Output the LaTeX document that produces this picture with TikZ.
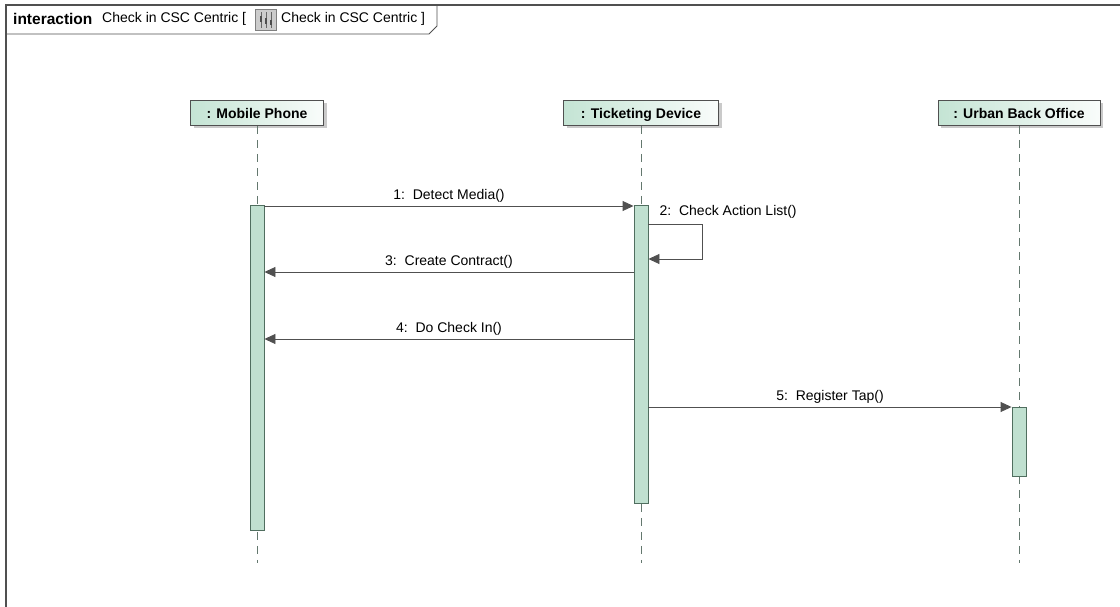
\documentclass[tikz,border=0pt]{standalone}
\usepackage{fontspec}
\setmainfont{Liberation Sans}
\usetikzlibrary{arrows.meta,shadows}
\definecolor{actfill}{RGB}{192,224,208}
\definecolor{actdraw}{RGB}{80,110,95}
\definecolor{headgreen}{RGB}{196,228,212}
\definecolor{linegray}{RGB}{80,80,80}
\definecolor{lifegray}{RGB}{100,120,110}
\tikzset{
  head/.style={draw=linegray, line width=0.8pt, left color=headgreen, right color=white!90!headgreen,
    minimum height=25pt, inner sep=0pt, text height=12pt, text depth=1pt,
    font=\fontsize{14}{16}\selectfont\bfseries,
    drop shadow={shadow xshift=3pt, shadow yshift=-3pt, fill=black!35, opacity=0.6}},
  act/.style={draw=actdraw, fill=actfill, line width=0.9pt, minimum width=14pt, inner sep=0pt, anchor=north},
  lifeline/.style={draw=lifegray, line width=0.9pt, dash pattern=on 8pt off 6pt},
  msg/.style={draw=linegray, line width=0.9pt, -{Triangle[length=11pt,width=10pt]}},
  lbl/.style={font=\fontsize{14}{16}\selectfont, inner sep=1pt},
  hdr/.style={font=\fontsize{14}{16}\selectfont, inner sep=0pt, anchor=west}
}
\begin{document}
\begin{tikzpicture}[x=1pt,y=-1pt]
\useasboundingbox (0,0) rectangle (1120,607);
% frame
\draw[linegray, line width=1.2pt] (6,607) -- (6,5) -- (1120,5);
\draw[linegray, line width=0.9pt] (6,34) -- (429,34) -- (437,26) -- (437,5);
\node[hdr, font=\fontsize{15.5}{17}\selectfont\bfseries] (kw) at (13,19) {interaction};
\node[hdr] (t1) at (102,19) {Check in CSC Centric [};
\node[draw=gray, fill=black!20, minimum width=21pt, minimum height=21pt, inner sep=0pt] (icon) at (266,20) {};
\draw[black!60, line width=0.8pt] ([xshift=-5pt,yshift=-3pt]icon.north) -- ([xshift=-5pt,yshift=3pt]icon.south)
  ([yshift=-3pt]icon.north) -- ([yshift=3pt]icon.south)
  ([xshift=5pt,yshift=-3pt]icon.north) -- ([xshift=5pt,yshift=3pt]icon.south);
\draw[black!70, line width=2.2pt] ([xshift=-5pt,yshift=-7pt]icon.north) -- ([xshift=-5pt,yshift=-13pt]icon.north)
  ([yshift=-9pt]icon.north) -- ([yshift=-15pt]icon.north)
  ([xshift=5pt,yshift=-11pt]icon.north) -- ([xshift=5pt,yshift=-16pt]icon.north);
\node[hdr] (t2) at (281,19) {Check in CSC Centric ]};
% heads
\node[head, minimum width=133pt] (mp) at (257,113) {: Mobile Phone};
\node[head, minimum width=155pt] (td) at (641,113) {: Ticketing Device};
\node[head, minimum width=162pt] (ub) at (1019,113) {: Urban Back Office};
% lifeline ends
\coordinate (mpe) at (257,563);
\coordinate (tde) at (641,563);
\coordinate (ube) at (1019,563);
\draw[lifeline] (mp.south) -- (mpe);
\draw[lifeline] (td.south) -- (tde);
\draw[lifeline] (ub.south) -- (ube);
% activations
\node[act, minimum height=325pt] (mpa) at (257,205) {};
\node[act, minimum height=298pt] (tda) at (641,205) {};
\node[act, minimum height=69pt] (uba) at (1019,407) {};
% messages
\draw[msg] ([yshift=-1pt]mpa.north east) -- node[lbl, above=2pt] {1:\ \ Detect Media()} ([yshift=-1pt]tda.north west);
\draw[msg] ([yshift=-19pt]tda.north east) -- ++(54,0) -- ++(0,35) -- ([yshift=-54pt]tda.north east);
\node[lbl, anchor=west] (l2) at ([xshift=10pt,yshift=-7pt]tda.north east) {2:\ \ Check Action List()};
\draw[msg] ([yshift=-67pt]tda.north west) -- node[lbl, above=2pt] {3:\ \ Create Contract()} ([yshift=-67pt]mpa.north east);
\draw[msg] ([yshift=-134pt]tda.north west) -- node[lbl, above=2pt] {4:\ \ Do Check In()} ([yshift=-134pt]mpa.north east);
\draw[msg] ([yshift=-202pt]tda.north east) -- node[lbl, above=2pt] {5:\ \ Register Tap()} (uba.north west);
\end{tikzpicture}
\end{document}
